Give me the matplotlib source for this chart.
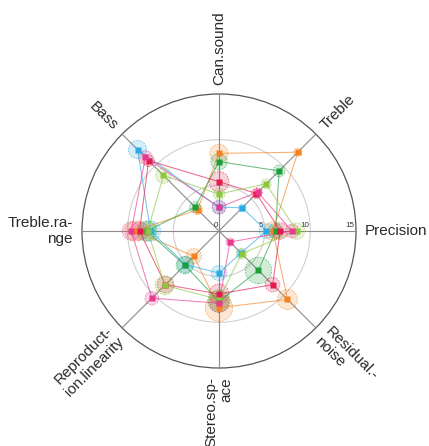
import numpy as np
import matplotlib
matplotlib.use('Agg')
import matplotlib.pyplot as plt
from matplotlib.patches import Circle

# axes (clockwise from top)
axis_names = ['Can.sound', 'Treble', 'Precision', 'Residual.-\nnoise', 'Stereo.sp-\nace',
              'Reproduct-\nion.linearity', 'Treble.ra-\nnge', 'Bass']
axis_angles = [90, 45, 0, -45, -90, -135, 180, 135]
ticks = [0, 5, 10, 15]

# series means and spread (circle radius)
orange = [8.5, 12.2, 5.9, 10.6, 8.4, 3.9, 9.2, 3.3]
orange_sd = [1.0, 0.45, 1.0, 1.1, 1.5, 0.85, 1.1, 0.55]
blue = [2.6, 3.6, 5.2, 3.4, 4.6, 5.2, 7.5, 12.6]
blue_sd = [0.75, 0.4, 0.8, 0.45, 0.85, 0.9, 1.1, 1.0]
dgreen = [7.6, 9.3, 6.2, 6.1, 7.7, 5.3, 7.9, 3.7]
dgreen_sd = [0.9, 0.65, 0.8, 1.45, 1.2, 0.95, 1.1, 0.6]
crimson = [5.4, 5.8, 6.7, 8.3, 6.9, 8.3, 8.7, 10.9]
crimson_sd = [1.1, 0.55, 0.9, 0.8, 1.1, 0.9, 1.0, 0.65]
lgreen = [4.05, 7.3, 8.5, 3.5, 7.5, 8.4, 7.8, 8.6]
lgreen_sd = [0.65, 0.55, 0.9, 0.6, 1.1, 1.05, 0.9, 0.85]
pink = [2.6, 6.0, 8.0, 1.7, 7.9, 10.4, 9.6, 11.4]
pink_sd = [0.75, 0.5, 0.75, 0.45, 1.0, 0.75, 1.0, 0.75]

series = [(orange, orange_sd, '#F58220'),
          (blue, blue_sd, '#29ABE2'),
          (dgreen, dgreen_sd, '#1E9E3A'),
          (crimson, crimson_sd, '#E31A4B'),
          (lgreen, lgreen_sd, '#8DC63F'),
          (pink, pink_sd, '#E8398F')]

W, H = 429, 446
cx, cy = 219, 231          # centre in pixels (from top)
scale = 137 / 15.0         # pixels per unit

fig = plt.figure(figsize=(W / 100, H / 100), dpi=100)
ax = fig.add_axes([0, 0, 1, 1])
ax.set_xlim(-cx / scale, (W - cx) / scale)
ax.set_ylim(-(H - cy) / scale, cy / scale)
ax.axis('off')

th = np.deg2rad(axis_angles)

# grid
for r, col, lw in [(5, '#d0d0d0', 0.8), (10, '#d0d0d0', 0.8), (15, '#555555', 0.9)]:
    ax.add_patch(Circle((0, 0), r, fill=False, ec=col, lw=lw, zorder=1))
for t in th:
    ax.plot([0, 15 * np.cos(t)], [0, 15 * np.sin(t)], color='#8a8a8a', lw=0.8, zorder=1)

for tk in ticks:
    ax.text(tk - 0.15, 0.2, str(tk), fontsize=5.8, ha='right', va='bottom',
            color='#333333', family='Liberation Sans', zorder=2)

# axis labels
for name, ang in zip(axis_names, axis_angles):
    t = np.deg2rad(ang)
    x, y = 16.0 * np.cos(t), 16.0 * np.sin(t)
    if ang == -90:
        rot, ha = 90, 'right'
    elif np.cos(t) < -1e-6:
        rot, ha = ang - 180 if ang > 0 else ang + 180, 'right'
    else:
        rot, ha = ang, 'left'
    ax.text(x, y, name, rotation=rot, rotation_mode='anchor', ha=ha, va='center',
            multialignment=ha, fontsize=11, family='Liberation Sans', color='#2a2a2a',
            linespacing=1.1)

# series
for vals, sds, col in series:
    v = np.array(vals)
    xs = v * np.cos(th)
    ys = v * np.sin(th)
    ax.plot(np.append(xs, xs[0]), np.append(ys, ys[0]), color=col, lw=0.75, alpha=0.65, zorder=3)
    for x, y, s in zip(xs, ys, sds):
        ax.add_patch(Circle((x, y), s, fc=col, ec='none', alpha=0.2, zorder=2))
        ax.add_patch(Circle((x, y), s, fill=False, ec=col, lw=0.6, ls=(0, (2, 1.5)), alpha=0.6, zorder=2))
    ax.plot(xs, ys, 's', color=col, ms=3.8, mec='none', zorder=4)

fig.savefig('out.png', dpi=100)
